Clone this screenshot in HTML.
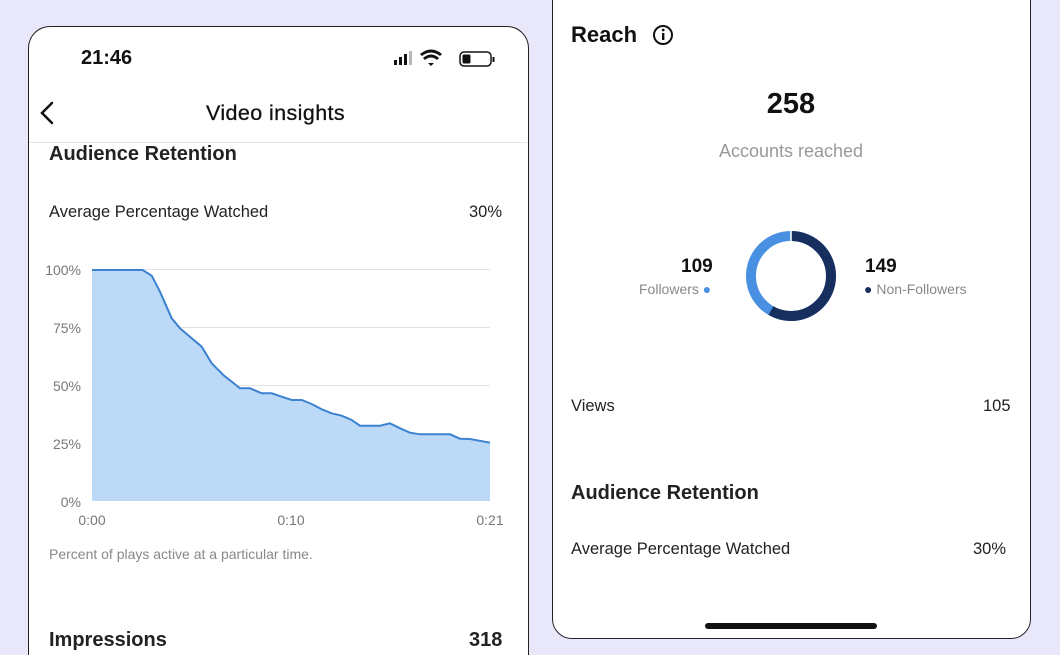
<!DOCTYPE html>
<html style="overflow:hidden;width:1060px;height:655px"><head><meta charset="utf-8"><style>
body{margin:0;width:1060px;height:655px;background:#e9e8fb;font-family:"Liberation Sans",sans-serif;position:relative;overflow:hidden}
.card{position:absolute;background:#fff;border:1.5px solid #222}
.t{position:absolute;white-space:nowrap}
</style></head><body>
<div class="card" style="left:28px;top:26px;width:499px;height:640px;border-radius:22px 22px 0 0;border-bottom:none"></div>
<div class="card" style="left:552px;top:-30px;width:477px;height:667px;border-radius:0 0 20px 20px"></div>

<div class="t" style="left:81px;top:47px;font-size:20px;font-weight:bold;color:#111">21:46</div>
<svg style="position:absolute;left:392px;top:49px" width="106" height="20">
<rect x="2" y="11" width="3" height="5" fill="#111"/><rect x="7" y="8" width="3" height="8" fill="#111"/><rect x="12" y="5" width="3" height="11" fill="#111"/><rect x="17" y="2" width="3" height="14" fill="#111" opacity=".3"/>
<path d="M36 14 l3 3 3-3z M31 9 q8-7 16 0 l-2 2 q-6-5-12 0z M28 5 q11-9 22 0 l-2 2 q-9-7-18 0z" fill="#111"/>
<rect x="68" y="3" width="31" height="14" rx="4" fill="none" stroke="#111" stroke-width="1.5"/><rect x="70.5" y="5.5" width="8" height="9" rx="1.5" fill="#111"/><rect x="100.5" y="8" width="2" height="5" fill="#111"/>
</svg>
<svg style="position:absolute;left:36px;top:100px" width="24" height="28"><path d="M16 3 L6 13 L16 23" fill="none" stroke="#111" stroke-width="2.5" stroke-linecap="round"/></svg>
<div class="t" style="left:206px;top:101px;font-size:21.5px;color:#111;-webkit-text-stroke:0.3px #111;letter-spacing:0.4px">Video insights</div>
<div style="position:absolute;left:29px;top:142px;width:498px;height:1px;background:#e5e5e5"></div>
<div class="t" style="left:49px;top:143px;font-size:20px;font-weight:bold;color:#222">Audience Retention</div>
<div class="t" style="left:49px;top:203px;font-size:16.5px;color:#222">Average Percentage Watched</div>
<div class="t" style="left:469px;top:203px;font-size:16.5px;color:#222">30%</div>

<svg style="position:absolute;left:0;top:0" width="530" height="570">
<g stroke="#e2e2e2" stroke-width="1"><line x1="92" x2="490" y1="269.5" y2="269.5"/><line x1="92" x2="490" y1="327.5" y2="327.5"/><line x1="92" x2="490" y1="385.5" y2="385.5"/><line x1="92" x2="490" y1="443.5" y2="443.5"/></g>
<path d="M92,270 L142.7,270 151.7,275.7 160,291.7 171.7,318.3 180,328.3 191.7,338.3 201.7,346.7 211.7,363.3 223.3,375 240,388.3 250,388.3 261.7,393.3 271.7,393.3 281.7,396.7 291.7,400 301.7,400 311.7,404 321.7,409.3 331.7,413.3 341.7,415.7 351.7,420 360,425.7 380,425.7 390,423.3 400,428.3 410,432.7 420,434.3 450,434.3 460,438.7 470,439 490,442.7 L490,501 L92,501Z" fill="#bcdaf8"/>
<path d="M92,270 L142.7,270 151.7,275.7 160,291.7 171.7,318.3 180,328.3 191.7,338.3 201.7,346.7 211.7,363.3 223.3,375 240,388.3 250,388.3 261.7,393.3 271.7,393.3 281.7,396.7 291.7,400 301.7,400 311.7,404 321.7,409.3 331.7,413.3 341.7,415.7 351.7,420 360,425.7 380,425.7 390,423.3 400,428.3 410,432.7 420,434.3 450,434.3 460,438.7 470,439 490,442.7" fill="none" stroke="#3b82d0" stroke-width="2"/>
<g font-family="Liberation Sans" font-size="14" fill="#777" text-anchor="end"><text x="81" y="275">100%</text><text x="81" y="333">75%</text><text x="81" y="391">50%</text><text x="81" y="449">25%</text><text x="81" y="507">0%</text></g>
<g font-family="Liberation Sans" font-size="14" fill="#777" text-anchor="middle"><text x="92" y="525">0:00</text><text x="291" y="525">0:10</text><text x="490" y="525">0:21</text></g>
</svg>
<div class="t" style="left:49px;top:546px;font-size:14px;color:#888">Percent of plays active at a particular time.</div>
<div class="t" style="left:49px;top:629px;font-size:20px;font-weight:bold;color:#222">Impressions</div>
<div class="t" style="left:469px;top:629px;font-size:20px;font-weight:bold;color:#222">318</div>

<div class="t" style="left:571px;top:22px;font-size:22px;font-weight:bold;color:#111">Reach</div>
<svg style="position:absolute;left:652px;top:24px" width="22" height="22"><circle cx="11" cy="11" r="9" fill="none" stroke="#111" stroke-width="2"/><rect x="10" y="9" width="2.4" height="7" fill="#111"/><circle cx="11.2" cy="6" r="1.4" fill="#111"/></svg>
<div class="t" style="left:0;width:1582px;text-align:center;top:88px;font-size:29px;font-weight:bold;color:#111">258</div>
<div class="t" style="left:0;width:1582px;text-align:center;top:141px;font-size:18px;color:#999">Accounts reached</div>

<svg style="position:absolute;left:741px;top:226px" width="100" height="100">
<circle cx="50" cy="50" r="40" fill="none" stroke="#4a90e2" stroke-width="10"/>
<circle cx="50" cy="50" r="40" fill="none" stroke="#162f5e" stroke-width="10" stroke-dasharray="145.8 300" transform="rotate(-89 50 50)"/>
<line x1="50" y1="4" x2="50" y2="16" stroke="#fff" stroke-width="1.5"/>
</svg>
<div class="t" style="left:681px;top:256px;font-size:19px;font-weight:bold;color:#111">109</div>
<div class="t" style="left:639px;top:281px;font-size:14px;color:#888">Followers <span style="color:#4a90e2">●</span></div>
<div class="t" style="left:865px;top:256px;font-size:19px;font-weight:bold;color:#111">149</div>
<div class="t" style="left:864px;top:281px;font-size:14px;color:#888"><span style="color:#162f5e">●</span> Non-Followers</div>

<div class="t" style="left:571px;top:397px;font-size:16.5px;color:#222">Views</div>
<div class="t" style="left:983px;top:397px;font-size:16.5px;color:#222">105</div>
<div class="t" style="left:571px;top:482px;font-size:20px;font-weight:bold;color:#222">Audience Retention</div>
<div class="t" style="left:571px;top:540px;font-size:16.5px;color:#222">Average Percentage Watched</div>
<div class="t" style="left:973px;top:540px;font-size:16.5px;color:#222">30%</div>
<div style="position:absolute;left:705px;top:623px;width:172px;height:6px;border-radius:3px;background:#111"></div>
</body></html>
